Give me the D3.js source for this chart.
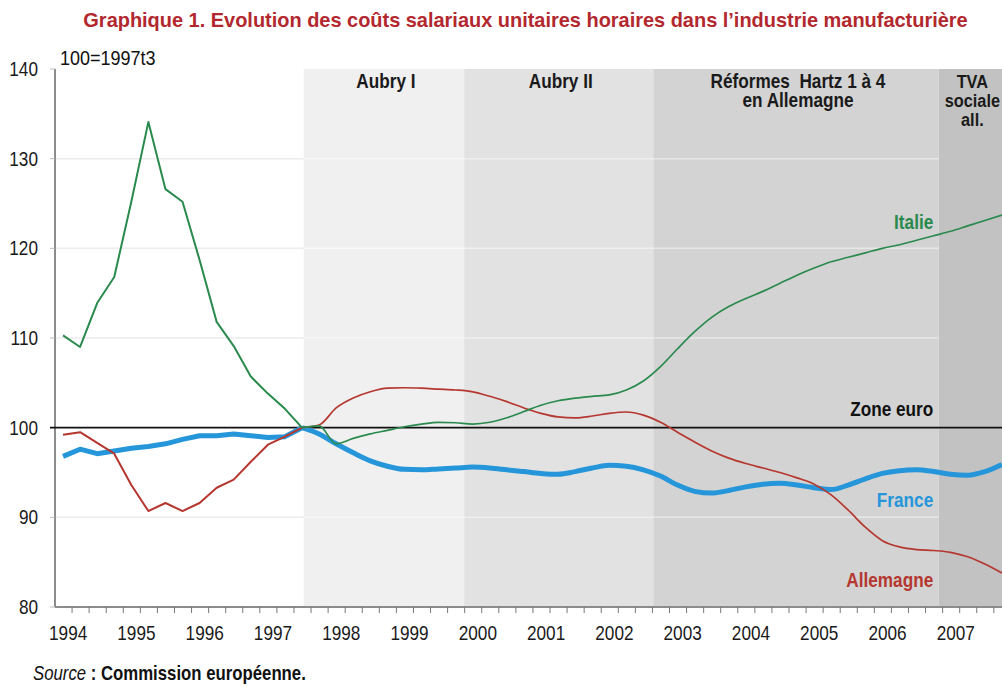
<!DOCTYPE html>
<meta charset="utf-8">
<style>
body { margin: 0; background: #fff; }
text { font-family: "Liberation Sans", Arial, sans-serif; }
</style>
<body>
<script src="https://d3js.org/d3.v7.min.js"></script>
<script>

// quarterly series, 1994t1 .. 2007t4, base 100 = 1997t3
var years = [1994, 1995, 1996, 1997, 1998, 1999, 2000, 2001, 2002, 2003, 2004, 2005, 2006, 2007];

var italie = [110.3, 109.0, 113.9, 116.8, 125.2, 134.1, 126.6, 125.2, 118.7, 111.8, 109.1, 105.7, 103.8, 102.1, 100.0,
  100.2, 98.2, 98.8, 99.3, 99.7, 100.1, 100.4, 100.6, 100.55, 100.4, 100.6, 101.1, 101.8, 102.5, 103.0,
  103.3, 103.5, 103.65, 104.2, 105.2, 106.8, 108.8, 110.7, 112.3, 113.5, 114.4, 115.2, 116.1, 117.0,
  117.8, 118.5, 119.0, 119.5, 120.0, 120.4, 120.9, 121.4, 121.9, 122.5, 123.1, 123.7];

var allemagne = [99.2, 99.5, 98.3, 97.1, 93.6, 90.7, 91.6, 90.7, 91.6, 93.3, 94.2, 96.2, 98.1, 99.0, 100.0,
  100.3, 102.2, 103.3, 104.0, 104.4, 104.45, 104.4, 104.3, 104.2, 104.0, 103.5, 102.9, 102.2, 101.6, 101.2,
  101.1, 101.3, 101.6, 101.75, 101.4, 100.6, 99.5, 98.4, 97.4, 96.6, 96.0, 95.5, 95.0, 94.4,
  93.7, 92.5, 90.8, 88.9, 87.4, 86.7, 86.4, 86.3, 86.1, 85.6, 84.8, 83.8];

var france = [96.8, 97.6, 97.1, 97.4, 97.7, 97.9, 98.2, 98.7, 99.1, 99.1, 99.3, 99.1, 98.9, 99.0, 100.0,
  99.3, 98.2, 97.2, 96.3, 95.7, 95.35, 95.3, 95.4, 95.5, 95.6, 95.5, 95.3, 95.1, 94.9, 94.8,
  95.1, 95.5, 95.8, 95.7, 95.3, 94.6, 93.6, 92.9, 92.7, 93.0, 93.4, 93.7, 93.8, 93.6,
  93.3, 93.1, 93.6, 94.3, 94.9, 95.2, 95.3, 95.1, 94.8, 94.7, 95.1, 95.9];

var zoneEuro = 100;
var baseIndex = 14; // 1997t3

var yTicks = [80, 90, 100, 110, 120, 130, 140];

// policy periods (start / end in fractional years)
var bandLabels = [["Aubry I"], ["Aubry II"], ["Réformes  Hartz 1 à 4", "en Allemagne"], ["TVA", "sociale", "all."]];
var bandStart = [1997.65, 2000.0, 2002.77, 2006.95];
var bandEnd = [2000.0, 2002.77, 2006.95, 2008];
var bandColors = ["#f0f0f0", "#e2e2e2", "#d3d3d3", "#c2c2c2"];

var W = 1002, H = 687;
var SX = 0.86; // squeeze glyphs to mimic the narrow original typeface

// date of each quarter = middle of the quarter
var dates = [];
years.forEach(function(y) {
  for (var q = 0; q < 4; q++) dates.push(y + (q + 0.5) / 4);
});

var x = d3.scaleLinear().domain([1994, 2008]).range([54.5, 1010.4]);
var y = d3.scaleLinear().domain([80, 140]).range([607, 69]);

var svg = d3.select("body").append("svg")
    .attr("width", W)
    .attr("height", H);

// text placed at (px, py), horizontally condensed
function label(px, py, str, size, anchor, sx) {
  return svg.append("g")
      .attr("transform", "translate(" + px + "," + py + ") scale(" + (sx || SX) + ",1)")
    .append("text")
      .attr("text-anchor", anchor || "start")
      .style("font-size", size + "px")
      .style("white-space", "pre")
      .text(str);
}

// title, fitted to the original width
var title = label(525.5, 27, "Graphique 1. Evolution des coûts salariaux unitaires horaires dans l’industrie manufacturière", 21, "middle", 1)
    .attr("fill", "#b2282e")
    .style("font-weight", "bold");
var tl = title.node().getComputedTextLength();
d3.select(title.node().parentNode).attr("transform", "translate(525.5,27) scale(" + (885 / tl) + ",1)");

// shaded periods
svg.selectAll(".band")
    .data(bandStart)
  .enter().append("rect")
    .attr("class", "band")
    .attr("x", function(d) { return x(d); })
    .attr("y", y(140))
    .attr("width", function(d, i) { return x(bandEnd[i]) - x(d); })
    .attr("height", y(80) - y(140))
    .attr("fill", function(d, i) { return bandColors[i]; });

// gridlines: grey on white, whitish over shaded periods
var grid = yTicks.filter(function(v) { return v != 100 && v != 80 && v != 140; });
svg.selectAll(".gridw")
    .data(grid)
  .enter().append("line")
    .attr("x1", x(1994)).attr("x2", x(bandStart[0]))
    .attr("y1", function(d) { return y(d); })
    .attr("y2", function(d) { return y(d); })
    .attr("stroke", "#ebebeb")
    .attr("stroke-width", 1.5);
svg.selectAll(".gridb")
    .data(grid)
  .enter().append("line")
    .attr("x1", x(bandStart[0])).attr("x2", x(bandStart[3]))
    .attr("y1", function(d) { return y(d); })
    .attr("y2", function(d) { return y(d); })
    .attr("stroke", "#fff")
    .attr("stroke-opacity", 0.45)
    .attr("stroke-width", 1.5);

// band labels
bandLabels.forEach(function(lines, i) {
  var cx = (x(bandStart[i]) + Math.min(x(bandEnd[i]), W)) / 2 + 2;
  var size = i == 3 ? 19 : 20;
  lines.forEach(function(l, j) {
    label(cx, 88 + j * 19, l, size, "middle")
      .attr("fill", "#1a1a1a")
      .style("font-weight", "bold");
  });
});

// y axis
svg.append("line")
    .attr("x1", 55).attr("x2", 55)
    .attr("y1", y(140)).attr("y2", y(80))
    .attr("stroke", "#8c8c8c").attr("stroke-width", 2);
svg.selectAll(".ytick")
    .data(yTicks)
  .enter().append("line")
    .attr("x1", 50).attr("x2", 55)
    .attr("y1", function(d) { return y(d); })
    .attr("y2", function(d) { return y(d); })
    .attr("stroke", "#bbb");
yTicks.forEach(function(v) {
  label(38, y(v) + 7, v, 20, "end").attr("fill", "#1a1a1a");
});

label(60, 65, "100=1997t3", 20, "start", 0.9).attr("fill", "#111");

// x axis, one tick per quarter
var xAxis = svg.append("g")
    .attr("transform", "translate(0," + y(80) + ")")
    .call(d3.axisBottom(x)
      .tickValues(d3.range(1994.25, 2008, 0.25))
      .tickSize(6)
      .tickFormat(""));
xAxis.select(".domain").attr("stroke", "#8c8c8c").attr("stroke-width", 2)
    .attr("d", "M55,0H" + W);
xAxis.selectAll(".tick line").attr("stroke", "#777");

years.forEach(function(yr) {
  label(x(yr + 0.2), 640, yr, 20, "middle").attr("fill", "#1a1a1a");
});

// zone euro reference
svg.append("line")
    .attr("x1", 50).attr("x2", W)
    .attr("y1", y(zoneEuro)).attr("y2", y(zoneEuro))
    .attr("stroke", "#111").attr("stroke-width", 1.6);

// series: straight segments before the base quarter, smoothed after
function drawSeries(values, color, w1, w2) {
  var pts = values.map(function(v, i) { return [dates[i], v]; });
  var straight = d3.line().x(function(d) { return x(d[0]); }).y(function(d) { return y(d[1]); });
  var smooth = d3.line().curve(d3.curveMonotoneX).x(function(d) { return x(d[0]); }).y(function(d) { return y(d[1]); });
  svg.append("path")
      .attr("d", straight(pts.slice(0, baseIndex + 1)))
      .attr("fill", "none").attr("stroke", color)
      .attr("stroke-width", w1).attr("stroke-linejoin", "round");
  svg.append("path")
      .attr("d", smooth(pts.slice(baseIndex)))
      .attr("fill", "none").attr("stroke", color)
      .attr("stroke-width", w2).attr("stroke-linejoin", "round");
}

drawSeries(france, "#2596da", 5, 5);
drawSeries(allemagne, "#b5372f", 2, 1.7);
drawSeries(italie, "#2a8a4e", 2, 1.7);

// series labels
var labels = [
  {text: "Italie", color: "#2a8a4e", v: 122.2},
  {text: "Zone euro", color: "#111", v: 101.3},
  {text: "France", color: "#2596da", v: 91.1},
  {text: "Allemagne", color: "#b5372f", v: 82.2}
];
labels.forEach(function(d) {
  label(x(2006.87), y(d.v), d.text, 20, "end")
    .attr("fill", d.color)
    .style("font-weight", "bold");
});

// source
var src = label(33, 680, "", 19.5).attr("fill", "#111");
src.append("tspan").style("font-style", "italic").text("Source");
src.append("tspan").style("font-weight", "bold").text(" : Commission européenne.");

</script>
</body>
